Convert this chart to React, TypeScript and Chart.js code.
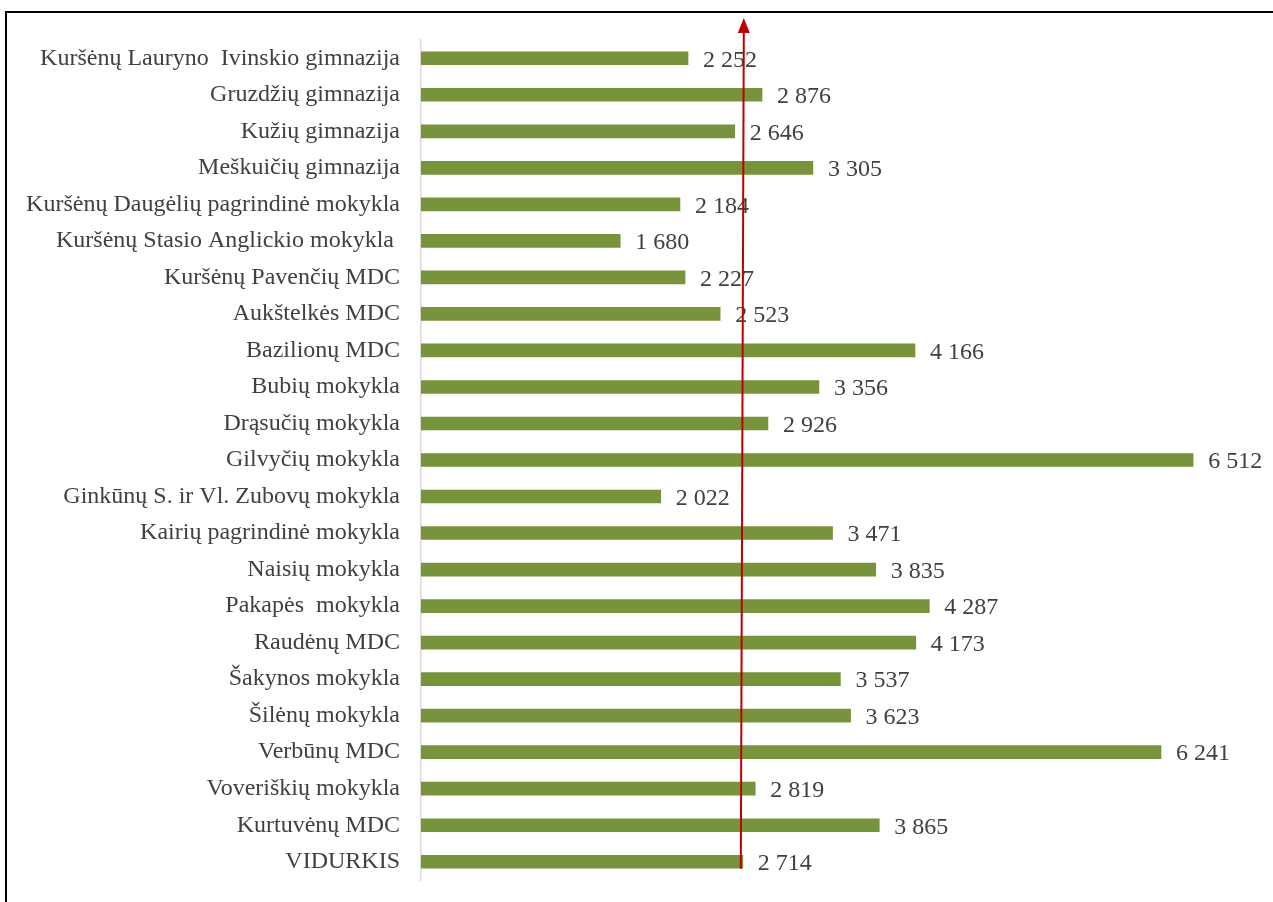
import React, { useEffect, useRef } from "react";
import { Chart, registerables } from "chart.js";

Chart.register(...registerables);

const categories = [
  "Kuršėnų Lauryno  Ivinskio gimnazija",
  "Gruzdžių gimnazija",
  "Kužių gimnazija",
  "Meškuičių gimnazija",
  "Kuršėnų Daugėlių pagrindinė mokykla",
  "Kuršėnų Stasio Anglickio mokykla ",
  "Kuršėnų Pavenčių MDC",
  "Aukštelkės MDC",
  "Bazilionų MDC",
  "Bubių mokykla",
  "Drąsučių mokykla",
  "Gilvyčių mokykla",
  "Ginkūnų S. ir Vl. Zubovų mokykla",
  "Kairių pagrindinė mokykla",
  "Naisių mokykla",
  "Pakapės  mokykla",
  "Raudėnų MDC",
  "Šakynos mokykla",
  "Šilėnų mokykla",
  "Verbūnų MDC",
  "Voveriškių mokykla",
  "Kurtuvėnų MDC",
  "VIDURKIS",
];

const values = [
  2252, 2876, 2646, 3305, 2184, 1680, 2227, 2523, 4166, 3356, 2926, 6512,
  2022, 3471, 3835, 4287, 4173, 3537, 3623, 6241, 2819, 3865, 2714,
];

const averageValue = 2714;
const axisMax = 7000;

const FONT = "'Liberation Serif', 'Times New Roman', serif";
const TEXT_COLOR = "#404040";
const BAR_COLOR = "#77933C";
const FONT_SIZE = 24;

function fmt(v: number): string {
  return String(v).replace(/\B(?=(\d{3})+(?!\d))/g, " ");
}

const valueLabels = {
  id: "valueLabels",
  afterDatasetsDraw(chart: any) {
    const ctx = chart.ctx;
    const meta = chart.getDatasetMeta(0);
    ctx.save();
    ctx.font = `${FONT_SIZE}px ${FONT}`;
    ctx.fillStyle = TEXT_COLOR;
    ctx.textAlign = "left";
    ctx.textBaseline = "middle";
    meta.data.forEach((bar: any, i: number) => {
      ctx.fillText(fmt(values[i]), bar.x + 15, bar.y + 2);
    });
    ctx.restore();
  },
};

const avgArrow = {
  id: "avgArrow",
  afterDraw(chart: any) {
    const ctx = chart.ctx;
    const xs = chart.scales.x;
    const meta = chart.getDatasetMeta(0);
    const last = meta.data[meta.data.length - 1];
    const x = xs.getPixelForValue(averageValue);
    const yBottom = last.y + 7;
    const yTip = 18;
    const xBottom = x - 2;
    const xTop = x + 1;
    ctx.save();
    ctx.strokeStyle = "#C00000";
    ctx.fillStyle = "#C00000";
    ctx.lineWidth = 2;
    ctx.beginPath();
    ctx.moveTo(xBottom, yBottom);
    ctx.lineTo(xTop, yTip + 10);
    ctx.stroke();
    ctx.beginPath();
    ctx.moveTo(xTop, yTip);
    ctx.lineTo(xTop - 6, yTip + 15);
    ctx.lineTo(xTop + 6, yTip + 15);
    ctx.closePath();
    ctx.fill();
    ctx.restore();
  },
};

export default function App() {
  const ref = useRef<HTMLCanvasElement | null>(null);

  useEffect(() => {
    if (!ref.current) return;
    const chart = new Chart(ref.current, {
      type: "bar",
      data: {
        labels: categories,
        datasets: [
          {
            data: values,
            backgroundColor: BAR_COLOR,
            borderWidth: 0,
            barThickness: 13,
          },
        ],
      },
      options: {
        indexAxis: "y",
        animation: false,
        responsive: false,
        maintainAspectRatio: false,
        layout: { padding: { top: 40, bottom: 22, left: 0, right: 22 } },
        plugins: {
          legend: { display: false },
          tooltip: { enabled: false },
        },
        scales: {
          x: {
            display: false,
            min: 0,
            max: axisMax,
          },
          y: {
            grid: { display: false, drawTicks: false },
            border: { display: true, color: "#D9D9D9", width: 1.5 },
            ticks: {
              color: TEXT_COLOR,
              font: { family: FONT, size: FONT_SIZE },
              padding: 21,
              autoSkip: false,
            },
            afterFit(scale: any) {
              scale.width = 421;
              scale.paddingTop = 0;
              scale.paddingBottom = 0;
            },
          },
        },
      },
      plugins: [valueLabels, avgArrow],
    });
    return () => chart.destroy();
  }, []);

  return (
    <div
      style={{
        position: "fixed",
        left: 0,
        top: 0,
        width: 1273,
        height: 902,
        overflow: "hidden",
        background: "#fff",
      }}
    >
      <div
        style={{
          position: "absolute",
          left: 5,
          top: 11,
          width: 1320,
          height: 1000,
          border: "2px solid #000",
          boxSizing: "border-box",
        }}
      />
      <canvas
        ref={ref}
        width={1273}
        height={902}
        style={{ position: "absolute", left: 0, top: 0, width: 1273, height: 902 }}
      />
    </div>
  );
}
